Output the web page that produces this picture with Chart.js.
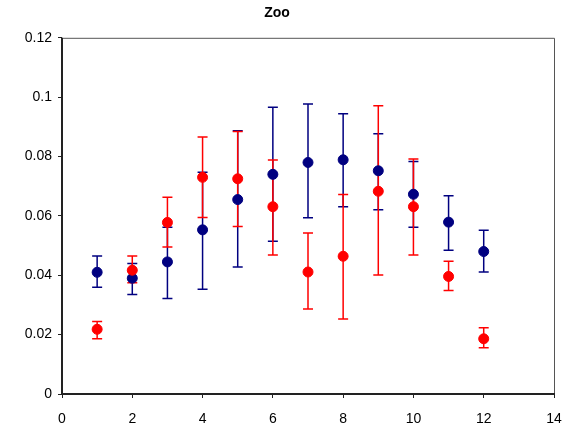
<!DOCTYPE html>
<html>
<head>
<meta charset="utf-8">
<script src="https://cdn.jsdelivr.net/npm/chart.js@4"></script>
<style>
  html, body { margin: 0; padding: 0; background: #fff; }
  #wrap { width: 566px; height: 431px; }
</style>
</head>
<body>
<div id="wrap"><canvas id="zooChart" width="566" height="431"></canvas></div>
<script>
// Data
const xs = [1, 2, 3, 4, 5, 6, 7, 8, 9, 10, 11, 12];

const blueMean  = [0.041, 0.039, 0.0445, 0.0553, 0.0655, 0.074, 0.078, 0.0789, 0.0752, 0.0673, 0.0579, 0.048];
const blueUpper = [0.0465, 0.044, 0.0562, 0.0747, 0.0887, 0.0966, 0.0977, 0.0944, 0.0877, 0.0783, 0.0668, 0.0552];
const blueLower = [0.036, 0.0335, 0.0322, 0.0353, 0.0428, 0.0515, 0.0594, 0.0631, 0.0621, 0.0562, 0.0484, 0.0411];

const redMean  = [0.0218, 0.0417, 0.0578, 0.073, 0.0725, 0.0631, 0.0411, 0.0464, 0.0683, 0.0631, 0.0396, 0.0186];
const redUpper = [0.0244, 0.0465, 0.0663, 0.0866, 0.0884, 0.0788, 0.0542, 0.0672, 0.0971, 0.0792, 0.0447, 0.0223];
const redLower = [0.0186, 0.0375, 0.0495, 0.0595, 0.0564, 0.0468, 0.0286, 0.0253, 0.0401, 0.0468, 0.0349, 0.0156];

const xTicks = [0, 2, 4, 6, 8, 10, 12, 14];
const yTicks = [0, 0.02, 0.04, 0.06, 0.08, 0.1, 0.12];

const toPoints = (ys) => xs.map((x, i) => ({ x: x, y: ys[i] }));

// error bars drawn through the chart scales
const errorBars = {
  id: 'errorBars',
  beforeDatasetsDraw(chart) {
    const ctx = chart.ctx;
    const xS = chart.scales.x, yS = chart.scales.y;
    chart.data.datasets.forEach(ds => {
      ctx.save();
      ctx.strokeStyle = ds.borderColor;
      ctx.lineWidth = 1.5;
      ds.points.forEach((p, i) => {
        const px = xS.getPixelForValue(p.x);
        const top = yS.getPixelForValue(ds.upper[i]);
        const bot = yS.getPixelForValue(ds.lower[i]);
        ctx.beginPath();
        ctx.moveTo(px, top); ctx.lineTo(px, bot);
        ctx.moveTo(px - 5, top); ctx.lineTo(px + 5, top);
        ctx.moveTo(px - 5, bot); ctx.lineTo(px + 5, bot);
        ctx.stroke();
      });
      ctx.restore();
    });
  }
};

// plot box
const plotBox = {
  id: 'plotBox',
  afterDraw(chart) {
    const { left, right, top, bottom } = chart.chartArea;
    const ctx = chart.ctx;
    ctx.save();
    ctx.strokeStyle = '#555';
    ctx.lineWidth = 1;
    ctx.beginPath();
    ctx.moveTo(left, top + 0.5); ctx.lineTo(right + 0.5, top + 0.5); ctx.lineTo(right + 0.5, bottom);
    ctx.stroke();
    ctx.strokeStyle = '#222';
    ctx.lineWidth = 2;
    ctx.beginPath();
    ctx.moveTo(left, top); ctx.lineTo(left, bottom); ctx.lineTo(right + 1, bottom);
    ctx.stroke();
    ctx.restore();
  }
};

const blueSet = {
  label: 'Series 1',
  data: toPoints(blueMean),
  points: toPoints(blueMean),
  upper: blueUpper,
  lower: blueLower,
  backgroundColor: '#000080',
  borderColor: '#000080',
  pointRadius: 5,
  pointHoverRadius: 5,
  order: 2
};

const redSet = {
  label: 'Series 2',
  data: toPoints(redMean),
  points: toPoints(redMean),
  upper: redUpper,
  lower: redLower,
  backgroundColor: '#ff0000',
  borderColor: '#ff0000',
  pointRadius: 5,
  pointHoverRadius: 5,
  order: 1
};

new Chart(document.getElementById('zooChart'), {
  type: 'scatter',
  data: { datasets: [blueSet, redSet] },
  plugins: [errorBars, plotBox],
  options: {
    responsive: false,
    animation: false,
    layout: { padding: { left: 0, right: 12, top: 0, bottom: 0 } },
    plugins: {
      legend: { display: false },
      tooltip: { enabled: false },
      title: {
        display: true,
        text: 'Zoo',
        color: '#000',
        font: { family: 'Liberation Sans, Arial, sans-serif', size: 14, weight: 'bold' },
        padding: { top: 5, bottom: 16 }
      }
    },
    scales: {
      x: {
        type: 'linear',
        min: 0,
        max: 14,
        afterBuildTicks: axis => { axis.ticks = xTicks.map(v => ({ value: v })); },
        afterFit: axis => { axis.height = 37; axis.paddingRight = 0; axis.paddingLeft = 0; },
        ticks: {
          color: '#000',
          padding: 13,
          maxRotation: 0,
          font: { family: 'Liberation Sans, Arial, sans-serif', size: 14 }
        },
        grid: { drawOnChartArea: false, drawTicks: true, tickLength: 4, color: '#222' },
        border: { display: false }
      },
      y: {
        type: 'linear',
        min: 0,
        max: 0.12,
        afterBuildTicks: axis => { axis.ticks = yTicks.map(v => ({ value: v })); },
        afterFit: axis => { axis.width = 62; },
        ticks: {
          color: '#000',
          padding: 6,
          font: { family: 'Liberation Sans, Arial, sans-serif', size: 14 },
          callback: v => String(+v.toFixed(2))
        },
        grid: { drawOnChartArea: false, drawTicks: true, tickLength: 4, color: '#222' },
        border: { display: false }
      }
    }
  }
});
</script>
</body>
</html>
